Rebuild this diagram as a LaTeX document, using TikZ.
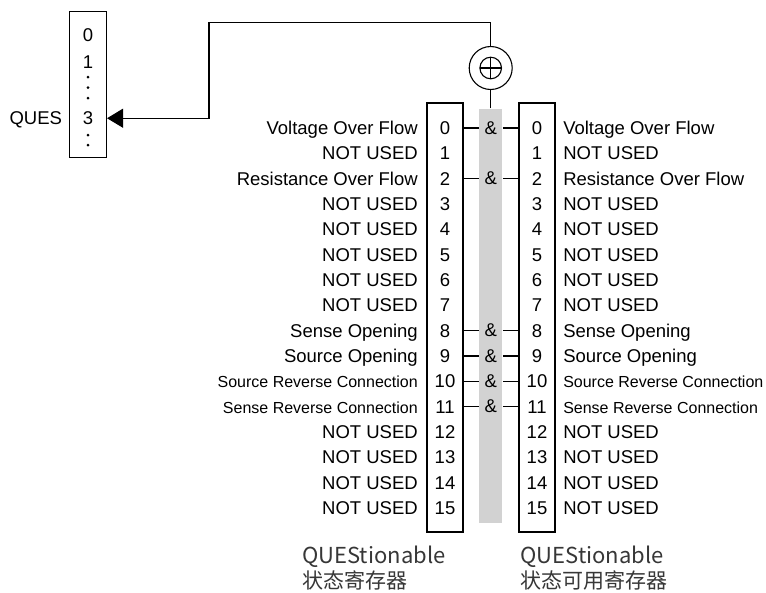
\documentclass[tikz,border=0pt]{standalone}
\usepackage{fontspec}
\setmainfont{Liberation Sans}
\newfontfamily\cjk{Noto Sans CJK SC}
\usetikzlibrary{arrows.meta}
\definecolor{bargray}{RGB}{210,210,210}
\definecolor{captxt}{RGB}{55,55,55}
\begin{document}
\begin{tikzpicture}[x=1pt,y=-1pt,
  every path/.style={line width=1.1pt},
  reg/.style={draw,line width=1.1pt,minimum width=36pt,minimum height=429pt,inner sep=0pt},
  big/.style={font=\fontsize{18.5}{20}\selectfont,inner sep=0pt},
  small/.style={font=\fontsize{16}{18}\selectfont,inner sep=0pt},
  amp/.style={font=\fontsize{18.5}{20}\selectfont,inner sep=0pt,minimum width=23pt,minimum height=18pt},
  capl/.style={font=\cjk\fontsize{22}{26}\selectfont,text=captxt,inner sep=0pt,anchor=base west},
  capc/.style={font=\cjk\fontsize{21}{24}\selectfont,text=captxt,inner sep=0pt,anchor=base west}
]
\useasboundingbox (0,0) rectangle (766,592);

% QUES summary register
\node[draw,line width=1.1pt,minimum width=37pt,minimum height=146pt,inner sep=0pt] (ques) at (88,84.5) {};
\node[big,anchor=base] (q0) at (88,41.6) {0};
\node[big,anchor=base] (q1) at (88,68.3) {1};
\node[big,anchor=base] (q3) at (88,124.6) {3};
\fill (88,77) circle[radius=1.5pt];
\fill (88,87.5) circle[radius=1.5pt];
\fill (88,98) circle[radius=1.5pt];
\fill (88,135) circle[radius=1.5pt];
\fill (88,145) circle[radius=1.5pt];
\node[big,anchor=base east] (queslbl) at (62.5,124.6) {QUES};

% gray bar and registers
\node[fill=bargray,minimum width=23pt,minimum height=414pt,inner sep=0pt] (bar) at (490.7,316) {};
\node[reg] (lbox) at (445,317.5) {};
\node[reg] (rbox) at (537,317.5) {};

% OR circle
\node[draw,circle,minimum size=43pt,inner sep=0pt,line width=1.1pt] (xor) at (490.7,68) {};
\draw (xor.center) circle[radius=10.8pt];
\draw (xor.center) ++(-10.8,0) -- ++(21.6,0);
\draw (xor.center) ++(0,-10.8) -- ++(0,21.6);

\draw (bar.north) -- (xor.south);
\coordinate (bend) at (209,22.3);
\draw[-{Triangle[length=16pt,width=19pt]}] (xor.north) |- (bend) |- (ques.east |- q3.center);

% rows
\foreach \i/\txt/\st in {0/Voltage Over Flow/big,1/NOT USED/big,2/Resistance Over Flow/big,3/NOT USED/big,4/NOT USED/big,5/NOT USED/big,6/NOT USED/big,7/NOT USED/big,8/Sense Opening/big,9/Source Opening/big,10/Source Reverse Connection/small,11/Sense Reverse Connection/small,12/NOT USED/big,13/NOT USED/big,14/NOT USED/big,15/NOT USED/big}{
  \pgfmathsetmacro{\yy}{128+25.333*\i}
  \pgfmathsetmacro{\yb}{\yy+6.6}
  \node[big,anchor=base] (ln\i) at (445,\yb) {\i};
  \node[big,anchor=base] (rn\i) at (537,\yb) {\i};
  \node[\st,anchor=base east] (lt\i) at (418.3,\yb) {\txt};
  \node[\st,anchor=base west] (rt\i) at (562.7,\yb) {\txt};
}
\foreach \i in {0,2,8,9,10,11}{
  \pgfmathsetmacro{\yy}{128+25.333*\i}
  \node[amp] (a\i) at (490.7,\yy) {\&};
  \draw (lbox.east |- a\i.west) -- (a\i.west);
  \draw (a\i.east) -- (rbox.west |- a\i.east);
}

% captions
\node[capl] (capL1) at (301.7,563) {QUEStionable};
\node[capc] (capL2) at (301.7,588) {状态寄存器};
\node[capl] (capR1) at (520,563) {QUEStionable};
\node[capc] (capR2) at (520,588) {状态可用寄存器};
\end{tikzpicture}
\end{document}
